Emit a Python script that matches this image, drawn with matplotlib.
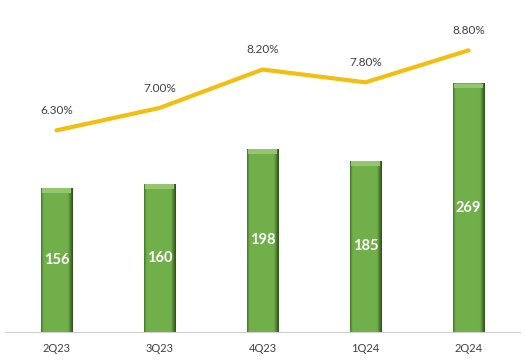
import matplotlib
matplotlib.use('Agg')
import matplotlib.pyplot as plt
import numpy as np

quarters = ['2Q23', '3Q23', '4Q23', '1Q24', '2Q24']
values = [156, 160, 198, 185, 269]
margins = [6.30, 7.00, 8.20, 7.80, 8.80]

plt.rcParams['font.family'] = ['Lato', 'DejaVu Sans']


def gradient_bar(ax, bar):
    x, y = bar.get_x(), bar.get_y()
    w, h = bar.get_width(), bar.get_height()
    # horizontal shading: thin dark edge left, wider dark strip right
    t = np.linspace(0, 1, 64)
    shade = np.where(t > 0.85, (t - 0.85) / 0.15, 0.0)
    shade = np.where(t < 0.08, (0.08 - t) / 0.08 * 0.6, shade)
    light = np.array([0.44, 0.69, 0.29])
    dark = np.array([0.18, 0.32, 0.10])
    row = light[None, :] * (1 - shade[:, None]) + dark[None, :] * shade[:, None]
    img = np.tile(row[None, :, :], (2, 1, 1))
    im = ax.imshow(img, extent=[x, x + w, y, y + h], aspect='auto',
                   origin='lower', zorder=2)
    im.set_clip_path(bar)


def main():
    fig = plt.figure(figsize=(5.25, 3.63), dpi=100)
    ax = fig.add_axes([5 / 525, 1 - 332 / 363, 515 / 525, 322 / 363])
    xs = np.arange(len(quarters))

    bars = ax.bar(xs, values, width=0.31, color='#70ad47',
                  edgecolor='#3f6b25', linewidth=0.6, zorder=2)
    for b in bars:
        gradient_bar(ax, b)
        # top bevel
        ax.bar(b.get_x() + b.get_width() / 2, 5, width=b.get_width() * 0.9,
               bottom=b.get_height() - 5.5, color='#94c66e', linewidth=0,
               zorder=3)
    for x, v in zip(xs, values):
        ax.text(x, v / 2, str(v), ha='center', va='center', color='white',
                fontsize=10.5, fontweight='bold', zorder=4)

    ax.set_xlim(-0.5, len(quarters) - 0.5)
    ax.set_ylim(0, 348)
    ax.set_yticks([])
    ax.set_xticks(xs)
    ax.set_xticklabels(quarters, fontsize=8, color='#404040')
    ax.tick_params(axis='x', length=0, pad=8)
    for s in ['top', 'right', 'left']:
        ax.spines[s].set_visible(False)
    ax.spines['bottom'].set_color('#d0d0d0')

    ax2 = ax.twinx()
    ax2.plot(xs, margins, color='#f2bf10', linewidth=3, solid_capstyle='round',
             zorder=5)
    for x, m in zip(xs, margins):
        ax2.text(x, m + 0.45, '%.2f%%' % m, ha='center', va='bottom',
                 fontsize=8.5, color='#404040')
    ax2.set_ylim(0, 10.06)
    ax2.set_yticks([])
    for s in ['top', 'right', 'left', 'bottom']:
        ax2.spines[s].set_visible(False)

    fig.savefig('out.png', dpi=100)


if __name__ == '__main__':
    main()
